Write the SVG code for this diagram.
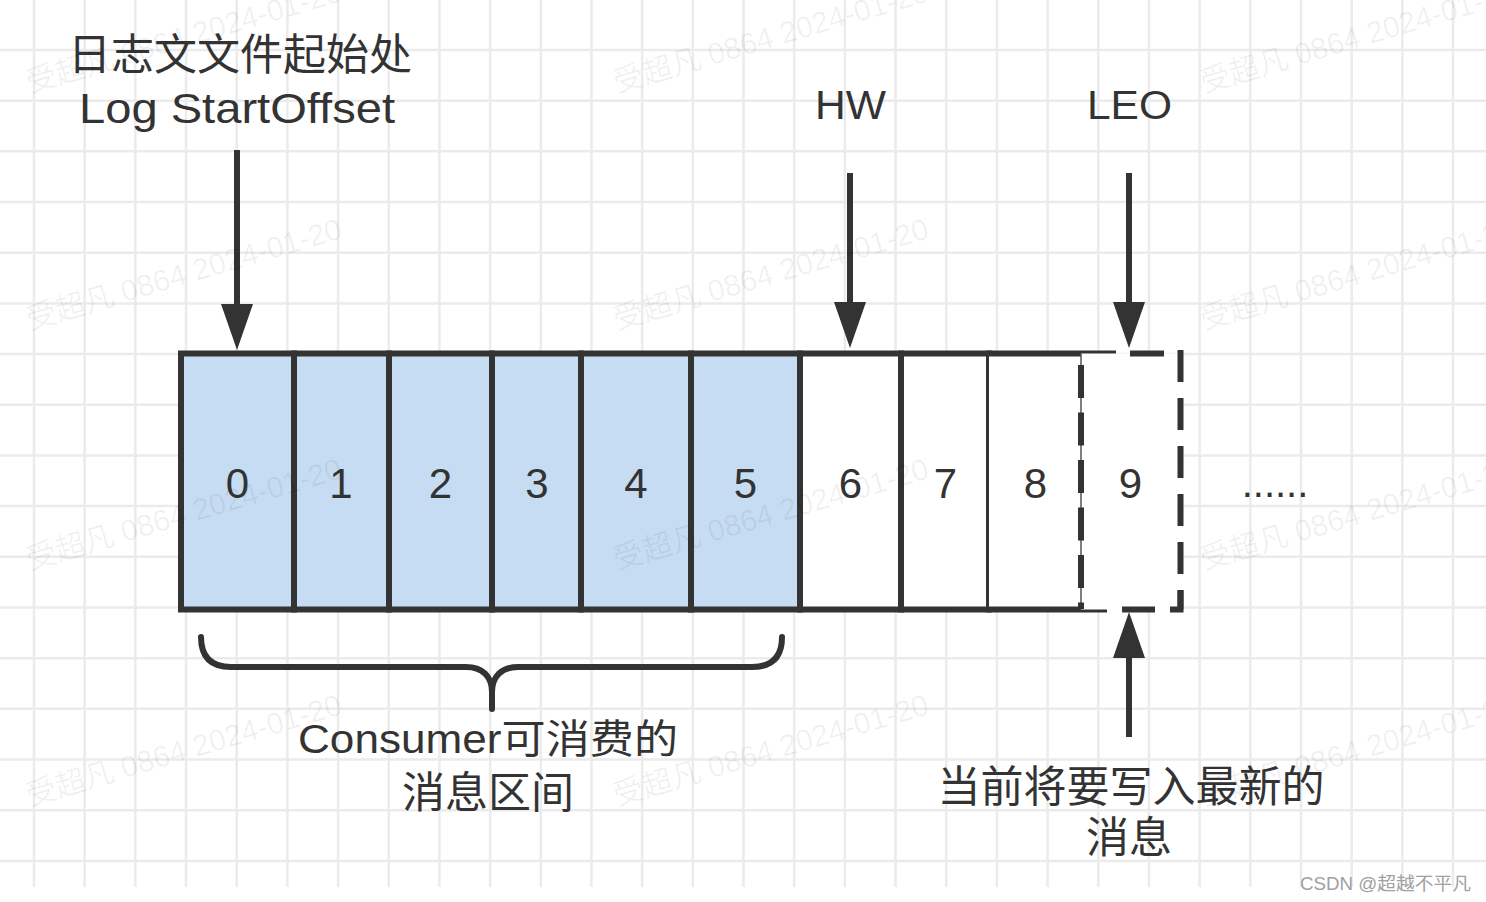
<svg xmlns="http://www.w3.org/2000/svg" width="1486" height="902" viewBox="0 0 1486 902">
<style>
.t{font-family:"Liberation Sans","Noto Sans CJK SC",sans-serif;fill:#333;}
.num{font-size:42px;text-anchor:middle;}
.ln{fill:none;stroke:#333;stroke-width:6;}
.cb{fill:#c6dcf2;stroke:#333;stroke-width:6;}
.cw{fill:#fff;stroke:#333;stroke-width:6;}
.wm{font-family:"Liberation Sans","Noto Sans CJK SC",sans-serif;font-size:30px;fill:#000;fill-opacity:0.06;}
</style>
<defs>
<marker id="ah" viewBox="0 0 46 32" refX="16" refY="16" markerWidth="46" markerHeight="32" markerUnits="userSpaceOnUse" orient="auto">
<path d="M0,0 L46,16 L0,32 Z" fill="#333"/>
</marker>
</defs>
<rect x="0" y="0" width="1486" height="902" fill="#fff"/>
<path id="grid" fill="none" stroke="#ebebeb" stroke-width="2.5" d="M34,0V887M84.68,0V887M135.36,0V887M186.04,0V887M236.72,0V887M287.4,0V887M338.08,0V887M388.76,0V887M439.44,0V887M490.12,0V887M540.8,0V887M591.48,0V887M642.16,0V887M692.84,0V887M743.52,0V887M794.2,0V887M844.88,0V887M895.56,0V887M946.24,0V887M996.92,0V887M1047.6,0V887M1098.28,0V887M1148.96,0V887M1199.64,0V887M1250.32,0V887M1301,0V887M1351.68,0V887M1402.36,0V887M1453.04,0V887M0,50H1486M0,100.68H1486M0,151.36H1486M0,202.04H1486M0,252.72H1486M0,303.4H1486M0,354.08H1486M0,404.76H1486M0,455.44H1486M0,506.12H1486M0,556.8H1486M0,607.48H1486M0,658.16H1486M0,708.84H1486M0,759.52H1486M0,810.2H1486M0,860.88H1486"/>

<g id="cell0"><rect class="cb" x="181" y="353.5" width="113" height="256"/><text class="t num" x="237.5" y="498">0</text></g>
<g id="cell1"><rect class="cb" x="294" y="353.5" width="95" height="256"/><text class="t num" x="341" y="498">1</text></g>
<g id="cell2"><rect class="cb" x="389" y="353.5" width="103" height="256"/><text class="t num" x="440.5" y="498">2</text></g>
<g id="cell3"><rect class="cb" x="492" y="353.5" width="89" height="256"/><text class="t num" x="537" y="498">3</text></g>
<g id="cell4"><rect class="cb" x="581" y="353.5" width="110" height="256"/><text class="t num" x="636" y="498">4</text></g>
<g id="cell5"><rect class="cb" x="691" y="353.5" width="109" height="256"/><text class="t num" x="745.5" y="498">5</text></g>
<g id="cell6"><rect class="cw" x="800" y="353.5" width="101" height="256"/><text class="t num" x="850.5" y="498">6</text></g>
<g id="cell7"><rect class="cw" x="901" y="353.5" width="88" height="256"/><text class="t num" x="945.5" y="498">7</text></g>
<g id="cell8"><rect x="989" y="353.5" width="92" height="256" fill="#fff"/><path class="ln" d="M986,353.5H1116M986,609.5H1107"/><text class="t num" x="1035.5" y="498">8</text></g>
<g id="cell9">
<rect x="1081" y="353.5" width="99.5" height="256" fill="#fff"/>
<path d="M1081,353.5V609.5" stroke="#555" stroke-width="1.5" fill="none"/>
<path class="ln" d="M1081,365V609" stroke-dasharray="33 14.5"/>
<path class="ln" d="M1130,353.5H1164M1122,609.5H1155"/>
<path class="ln" d="M1180.5,350V609.5" stroke-dasharray="32 16"/>
<path class="ln" d="M1170,609.5H1180.5V590"/>
<text class="t num" x="1130.5" y="498">9</text>
</g>
<g id="more"><text class="t" x="1275" y="497" font-size="40" text-anchor="middle">......</text></g>

<g id="label-start">
<text class="t" x="240" y="70" font-size="43" text-anchor="middle">日志文文件起始处</text>
<text class="t" x="79" y="123" font-size="42" textLength="316" lengthAdjust="spacingAndGlyphs">Log StartOffset</text>
</g>
<g id="label-hw"><text class="t" x="815" y="119" font-size="41" textLength="71" lengthAdjust="spacingAndGlyphs">HW</text></g>
<g id="label-leo"><text class="t" x="1087" y="119" font-size="41" textLength="85" lengthAdjust="spacingAndGlyphs">LEO</text></g>
<g id="label-consumer">
<text class="t" x="298" y="753" font-size="40" textLength="380" lengthAdjust="spacingAndGlyphs">Consumer可消费的</text>
<text class="t" x="488" y="808" font-size="43" text-anchor="middle">消息区间</text>
</g>
<g id="label-next">
<text class="t" x="1131" y="802" font-size="43" text-anchor="middle">当前将要写入最新的</text>
<text class="t" x="1129" y="853" font-size="43" text-anchor="middle">消息</text>
</g>

<g id="connectors">
<path class="ln" d="M237,150V320" marker-end="url(#ah)"/>
<path class="ln" d="M850,173V318" marker-end="url(#ah)"/>
<path class="ln" d="M1129,173V318" marker-end="url(#ah)"/>
<path class="ln" d="M1129,737V642" marker-end="url(#ah)"/>
<path class="ln" stroke-linecap="round" d="M201,637C201,657 211,667 231,667H466C482,667 492,676 492,692V709M492,692C492,676 502,667 518,667H752C772,667 782,657 782,637"/>
</g>

<g id="watermarks">
<text class="wm" x="30" y="93" transform="rotate(-16.4 30 93)">受超凡 0864 2024-01-20</text>
<text class="wm" x="617" y="93" transform="rotate(-16.4 617 93)">受超凡 0864 2024-01-20</text>
<text class="wm" x="1204" y="93" transform="rotate(-16.4 1204 93)">受超凡 0864 2024-01-20</text>
<text class="wm" x="30" y="330" transform="rotate(-16.4 30 330)">受超凡 0864 2024-01-20</text>
<text class="wm" x="617" y="330" transform="rotate(-16.4 617 330)">受超凡 0864 2024-01-20</text>
<text class="wm" x="1204" y="330" transform="rotate(-16.4 1204 330)">受超凡 0864 2024-01-20</text>
<text class="wm" x="30" y="570" transform="rotate(-16.4 30 570)">受超凡 0864 2024-01-20</text>
<text class="wm" x="617" y="570" transform="rotate(-16.4 617 570)">受超凡 0864 2024-01-20</text>
<text class="wm" x="1204" y="570" transform="rotate(-16.4 1204 570)">受超凡 0864 2024-01-20</text>
<text class="wm" x="30" y="806" transform="rotate(-16.4 30 806)">受超凡 0864 2024-01-20</text>
<text class="wm" x="617" y="806" transform="rotate(-16.4 617 806)">受超凡 0864 2024-01-20</text>
<text class="wm" x="1204" y="806" transform="rotate(-16.4 1204 806)">受超凡 0864 2024-01-20</text>
</g>
<text x="1300" y="890" font-family="'Liberation Sans','Noto Sans CJK SC',sans-serif" font-size="18" fill="#a0a0a0" textLength="171" lengthAdjust="spacingAndGlyphs">CSDN @超越不平凡</text>
</svg>
